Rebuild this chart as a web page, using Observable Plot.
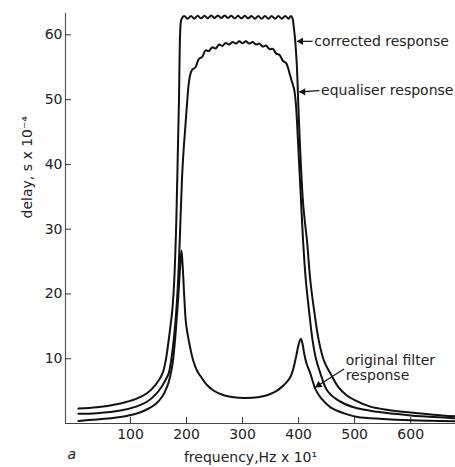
<!DOCTYPE html>
<html><head><meta charset="utf-8">
<script src="https://cdn.jsdelivr.net/npm/d3@7"></script>
<script src="https://cdn.jsdelivr.net/npm/@observablehq/plot@0.6"></script>
<style>
body{margin:0;background:#fff;}
#chart svg{display:block;}
</style></head><body><div id="chart"></div>
<script>
// frequency (Hz x 10) and delay (s x 10^-4)
const correctedFreq = [7,40,82,110,130,145,157,163,168,172,175,178,181,183,185,186.5,187.5,188.5,190,192,
  196,202,208,214,220,226,232,238,244,250,256,262,268,274,280,286,292,298,304,310,316,322,328,334,340,346,352,358,364,370,376,382,386,
  389,391,394,397,400,404,408,412,415,421,427,436,446,457,471,485,500,528,560,600,640,680];
const correctedDelay = [2.3,2.5,3.1,3.8,4.7,6.0,7.7,9.8,12.8,15.5,17.9,22,29,36,44,50,56,60,62.1,62.6,
  62.9,62.5,62.9,62.5,62.95,62.55,62.95,62.55,63.0,62.6,63.0,62.6,63.0,62.6,62.95,62.55,62.95,62.55,62.95,62.55,62.9,62.5,62.9,62.5,62.9,62.5,62.9,62.5,62.9,62.5,62.9,62.5,62.9,
  62.6,61.5,59,55,48,40,34,30.5,28.2,22,17.9,12.8,9.5,7.7,5.6,4.4,3.6,2.6,2.1,1.7,1.35,1.1];

const equaliserFreq = [7,40,82,110,130,145,155,163,168,173,177,180,183,186,189,192,195,198,201,204,207,
  210,216,222,228,234,240,246,252,258,264,270,276,282,288,294,300,306,312,318,324,330,336,342,348,354,360,366,372,378,384,
  388,392,395,398,401,404,408,413,418,425,431,439,451,470,498,540,600,680];
const equaliserDelay = [1.5,1.6,2.0,2.6,3.4,4.5,5.6,6.8,7.7,10,12.8,15.5,19,24,31,38,42.5,46,49.5,52.5,54,
  54.6,55.0,56.3,56.6,57.6,57.5,58.1,57.9,58.5,58.3,58.75,58.5,58.9,58.65,59.0,58.7,59.0,58.65,58.9,58.5,58.65,58.2,58.35,57.8,57.85,57.1,56.9,56.0,55.6,54.0,
  52.8,51.6,49.5,45.2,40,35,28.2,22,17.9,12.8,10,7.7,5.1,3.6,2.5,1.8,1.25,0.8];

const originalFreq = [7,40,82,110,130,145,157,165,170,175,178,181,184,187,189,191,193,196,199,204,212,219,225,237,248,265,284,305,327,345,360,368,378,386,391,396,400,404,
  407,410,414,421,430,440,457,480,505,550,600,680];
const originalDelay = [0.4,0.6,1.0,1.5,2.2,3.0,4.2,5.6,7.0,9.2,11.5,14.5,18,22,24.8,26.7,24.5,19.5,15.5,12.8,9.7,8.1,7.3,5.9,5.1,4.4,4.05,3.95,4.05,4.4,5.0,5.5,6.3,7.3,8.6,10.5,12.2,13.1,
  12.3,10.8,9.3,7.7,5.3,3.9,2.5,1.6,1.0,0.7,0.5,0.35];

const xTicks = [100,200,300,400,500,600];
const yTicks = [10,20,30,40,50,60];

// annotations
const annotText = ["corrected response","equaliser response","original filter\nresponse"];
const annotFreq = [428,440,484];
const annotDelay = [59.0,51.5,8.6];
const arrowFromFreq = [425,437,481];
const arrowFromDelay = [59.0,51.4,8.4];
const arrowToFreq = [397,401,430];
const arrowToDelay = [59.0,51.2,5.6];
const arrowRotate = [-90,-90,236];

const rows = [];
correctedFreq.forEach((f,i)=>rows.push({series:"corrected",f,v:correctedDelay[i]}));
equaliserFreq.forEach((f,i)=>rows.push({series:"equaliser",f,v:equaliserDelay[i]}));
originalFreq.forEach((f,i)=>rows.push({series:"original",f,v:originalDelay[i]}));

const annots = annotText.map((t,i)=>({t,f:annotFreq[i],v:annotDelay[i],
  f1:arrowFromFreq[i],v1:arrowFromDelay[i],f2:arrowToFreq[i],v2:arrowToDelay[i],rot:arrowRotate[i]}));

const font = "DejaVu Sans, sans-serif";
const chart = Plot.plot({
  width:455, height:467,
  marginLeft:65, marginRight:0, marginTop:13, marginBottom:44,
  style:{fontFamily:font, color:"#222", background:"#fff"},
  x:{domain:[-16,680]},
  y:{domain:[0,63.3]},
  marks:[
    Plot.ruleX([-16],{stroke:"#555",strokeWidth:1.2}),
    Plot.ruleY([0],{stroke:"#444",strokeWidth:1.2}),
    Plot.axisY({ticks:yTicks, tickSize:-6, tickPadding:9, fontSize:14, label:null, tickFormat:d=>String(d), stroke:"#333"}),
    Plot.axisX({ticks:xTicks, tickSize:-6, tickPadding:12, fontSize:14, label:null, tickFormat:d=>String(d), stroke:"#333"}),
    Plot.line(rows,{x:"f",y:"v",z:"series",curve:"catmull-rom",stroke:"#111",strokeWidth:2}),
    Plot.link(annots,{x1:"f1",y1:"v1",x2:"f2",y2:"v2",stroke:"#111",strokeWidth:1.2}),
    Plot.dot(annots.filter(d=>d.rot===-90),{x:"f2",y:"v2",symbol:"triangle2",r:3.5,fill:"#111",rotate:"rot",dx:4}),
    Plot.dot(annots.filter(d=>d.rot!==-90),{x:"f2",y:"v2",symbol:"triangle2",r:3.5,fill:"#111",rotate:"rot",dx:3.3,dy:-2.2}),
    Plot.text(annots,{x:"f",y:"v",text:"t",textAnchor:"start",lineAnchor:"middle",fontSize:14,lineHeight:1.07,fill:"#222"}),
    Plot.text(["frequency,Hz x 10¹"],{frameAnchor:"bottom",dx:-10,dy:34,lineAnchor:"middle",fontSize:14,fill:"#222"}),
    Plot.text(["delay, s x 10⁻⁴"],{frameAnchor:"left",dx:-38,dy:0,rotate:-90,lineAnchor:"middle",fontSize:14,fill:"#222"}),
    Plot.text(["a"],{frameAnchor:"bottom-left",dx:2,dy:31,lineAnchor:"middle",fontSize:14,fontStyle:"italic",fill:"#222"})
  ]
});
document.getElementById("chart").appendChild(chart);
</script></body></html>
